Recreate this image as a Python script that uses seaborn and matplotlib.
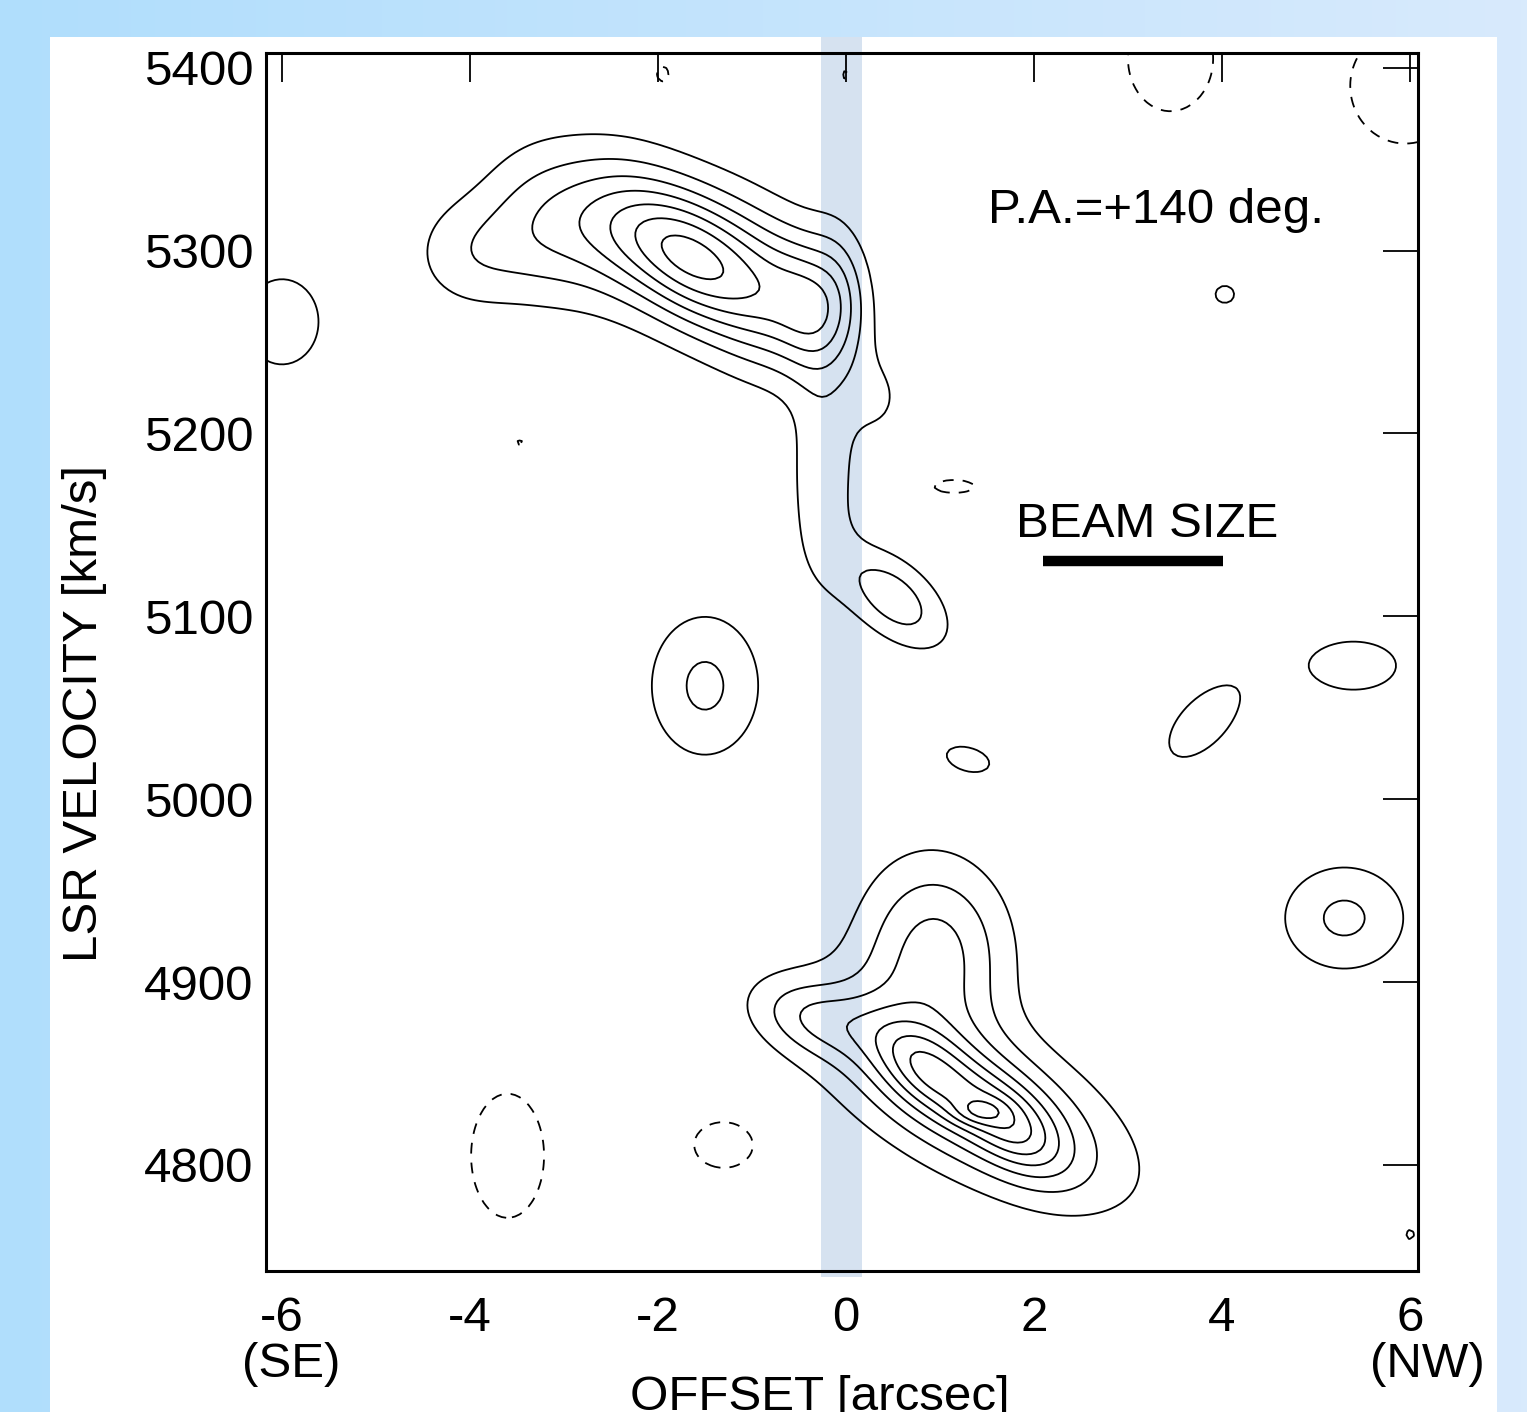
import numpy as np
import matplotlib
matplotlib.use("Agg")
import matplotlib.pyplot as plt
from matplotlib.patches import Rectangle
from matplotlib.colors import LinearSegmentedColormap
import seaborn as sns

# Emission components
# offset [arcsec], velocity [km/s], peak [contour units],
# widths [arcsec, km/s], tilt [km/s per arcsec]
blob_offset = [-4.0, -3.2, -2.4, -1.7, -0.9, -0.35, -0.05, -1.8, 0.35,  # redshifted side
               -0.25, 0.5,                                              # bridge + knot
               1.3, 0.85, 1.75, 1.42, 0.95, -0.35,                      # blueshifted side
               -6.0, -1.5, 1.3, 3.8, 5.4, 5.3, 4.03, 6.0,               # weak knots
               1.15, -3.47, -3.6, -1.3, 3.45, 5.95, -1.95, 0.0]         # negative
blob_velocity = [5298, 5314, 5313, 5297, 5278, 5268, 5282, 5300, 5218,
                 5175, 5110,
                 4838, 4852, 4822, 4829, 4918, 4880,
                 5261, 5062, 5022, 5042, 5073, 4935, 5276, 4762,
                 5171, 5195, 4805, 4811, 5405, 5390, 5396, 5396]
blob_peak = [1.5, 2.0, 2.8, 4.8, 4.0, 2.5, 1.5, 0.8, 0.9,
             1.7, 2.6,
             3.9, 3.2, 3.2, 1.3, 3.3, 2.0,
             1.6, 2.2, 1.2, 1.45, 1.4, 2.2, 1.25, 1.1,
             -1.3, -1.1, -1.6, -1.5, -1.5, -1.5, -1.2, -1.1]
blob_width_x = [0.45, 0.45, 0.45, 0.45, 0.5, 0.28, 0.22, 1.3, 0.25,
                0.25, 0.42,
                1.1, 0.4, 0.4, 0.2, 0.55, 0.45,
                0.4, 0.45, 0.35, 0.42, 0.55, 0.5, 0.15, 0.1,
                0.3, 0.1, 0.4, 0.35, 0.5, 0.65, 0.15, 0.08]
blob_width_v = [22, 28, 26, 24, 28, 24, 24, 45, 18,
                40, 17,
                30, 16, 16, 5, 35, 14,
                24, 30, 10, 18, 16, 22, 7, 6,
                5, 3, 35, 14, 32, 35, 10, 6]
blob_tilt = [0, -5, -10, -17, -20, -20, -20, -15, 0,
             0, -25,
             -22, -25, -25, 0, -3, -10,
             0, 0, -10, 30, 0, 0, 0, 0,
             0, 0, 0, 0, 0, 0, 0, 0]

positive_levels = [1, 2, 3, 4, 5, 6, 7, 8]
negative_levels = [-1]

x_ticks = [-6, -4, -2, 0, 2, 4, 6]
y_ticks = [4800, 4900, 5000, 5100, 5200, 5300, 5400]
grey_right_ticks = [5000, 5100, 5200, 5400]

sns.set_style("white")
plt.rcParams['font.family'] = ['Liberation Sans', 'DejaVu Sans']
plt.rcParams['text.color'] = 'black'
plt.rcParams['xtick.color'] = 'black'
plt.rcParams['ytick.color'] = 'black'
FS = 35.5

fig = plt.figure(figsize=(15.27, 14.12), dpi=100)

# gradient backdrop and white panel
bg = fig.add_axes([0, 0, 1, 1], zorder=-10)
grad_cmap = LinearSegmentedColormap.from_list("bg", ["#b0defc", "#d8eafc"])
bg.imshow(np.linspace(0, 1, 256)[None, :], aspect='auto', cmap=grad_cmap,
          extent=[0, 1, 0, 1])
bg.add_patch(Rectangle((50 / 1527, 0), (1497 - 50) / 1527, 1 - 37 / 1412,
                       facecolor='white', edgecolor='none'))
bg.set_xlim(0, 1)
bg.set_ylim(0, 1)
bg.axis('off')

ax = fig.add_axes([266 / 1527, 1 - 1271 / 1412, (1418 - 266) / 1527, (1271 - 53) / 1412])
ax.set_facecolor('none')

xlim = (-6.17, 6.085)
ylim = (4742, 5408)
gx = np.linspace(xlim[0], xlim[1], 260)
gv = np.linspace(ylim[0], ylim[1], 340)
X, V = np.meshgrid(gx, gv)
field = np.zeros_like(X)
for x0, v0, amp, sx, sv, tilt in zip(blob_offset, blob_velocity, blob_peak,
                                     blob_width_x, blob_width_v, blob_tilt):
    dv = V - v0 - tilt * (X - x0)
    field += amp * np.exp(-0.5 * ((X - x0) / sx) ** 2 - 0.5 * (dv / sv) ** 2)

# shaded strip at the nucleus position
ax.axvspan(-0.27, 0.165, ymin=-0.005, ymax=1.013, color='#d6e2f0',
           zorder=0, clip_on=False, lw=0)

ax.contour(X, V, field, levels=positive_levels, colors='black',
           linewidths=1.3, linestyles='solid', zorder=2)
ax.contour(X, V, field, levels=negative_levels, colors='black',
           linewidths=1.3, linestyles=[(0, (6, 5))], zorder=2)

ax.set_xlim(*xlim)
ax.set_ylim(*ylim)
ax.set_xticks(x_ticks)
ax.set_xticklabels([str(t) for t in x_ticks])
ax.set_yticks(y_ticks)
ax.tick_params(axis='x', direction='in', length=21, width=1.3, top=True,
               labelsize=FS, pad=18)
ax.tick_params(axis='y', direction='in', length=25, width=1.3, right=True,
               labelsize=FS, pad=9)
for t in ax.yaxis.get_major_ticks():
    if t.get_loc() in grey_right_ticks:
        t.tick2line.set_color('#a8a8a8')
for sp in ax.spines.values():
    sp.set_linewidth(2.2)
    sp.set_color('black')
    sp.set_zorder(3)

fig.text(85 / 1527, 1 - 714 / 1412, 'LSR VELOCITY [km/s]', fontsize=FS,
         rotation=90, ha='center', va='center')
fig.text(820 / 1527, 1 - 1398 / 1412, 'OFFSET [arcsec]', fontsize=FS,
         ha='center', va='center')
lab_tr = ax.get_xaxis_transform()
ax.text(-5.9, -0.077, '(SE)', transform=lab_tr, fontsize=FS, ha='center', va='center')
ax.text(6.18, -0.077, '(NW)', transform=lab_tr, fontsize=FS, ha='center', va='center')

ax.text(1.51, 5322, 'P.A.=+140 deg.', fontsize=FS, ha='left', va='center')
ax.text(1.81, 5150, 'BEAM SIZE', fontsize=FS, ha='left', va='center')
ax.plot([2.1, 4.01], [5130, 5130], color='black', lw=7.5, solid_capstyle='butt')

fig.savefig('out.png', dpi=100)
